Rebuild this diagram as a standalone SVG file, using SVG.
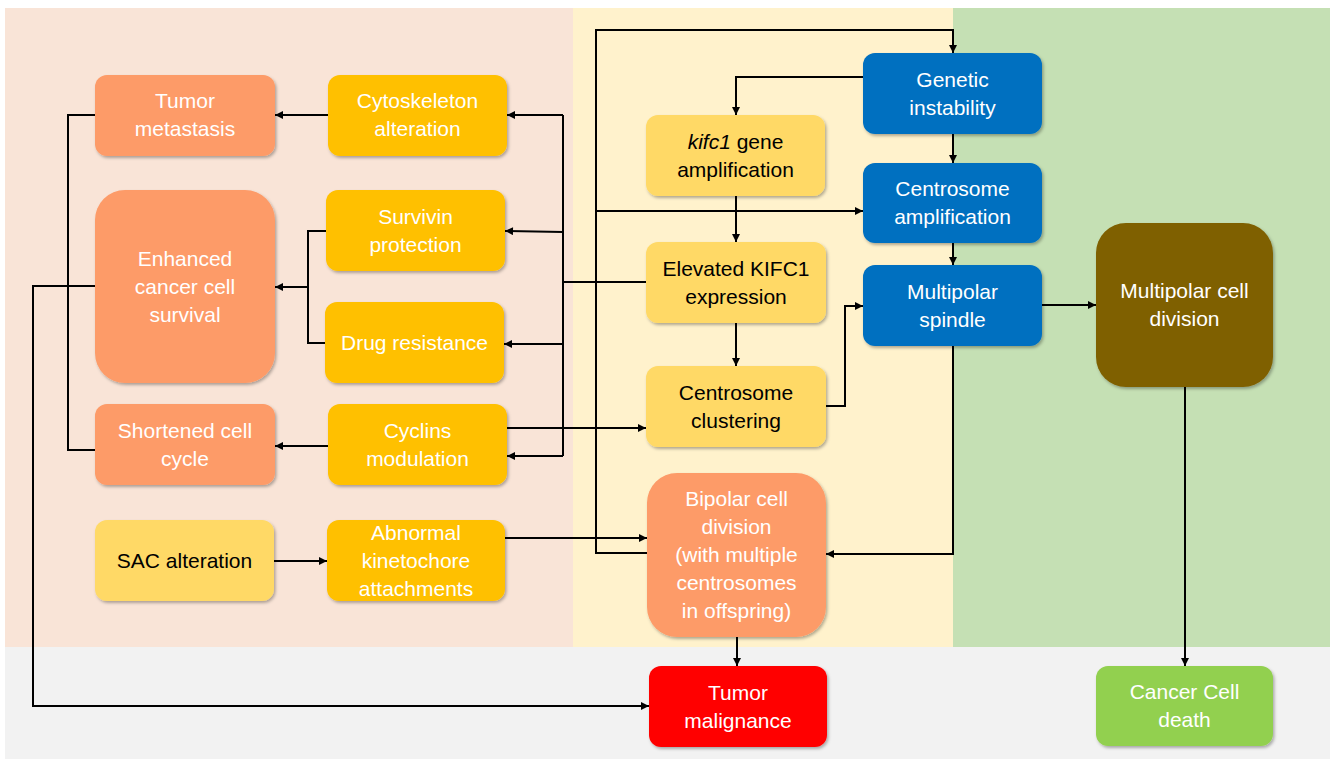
<svg xmlns="http://www.w3.org/2000/svg" width="1330" height="759" viewBox="0 0 1330 759">
  <style>
    .t { font-family: "Liberation Sans", Arial, sans-serif; font-size: 21px; text-anchor: middle; }
    .w { fill: #FFFFFF; }
    .k { fill: #000000; }
    .salmon { fill: #FD9B68; }
    .orange { fill: #FFC000; }
    .lyellow { fill: #FFD966; }
    .blue { fill: #0070C0; }
    .brown { fill: #7F6000; }
    .red { fill: #FF0000; }
    .green { fill: #92D050; }
    .node rect { filter: url(#sh); }
    .c { fill: none; stroke: #000000; stroke-width: 2; }
    .a { marker-end: url(#arr); }
  </style>
  <defs>
    <filter id="sh" x="-10%" y="-10%" width="125%" height="130%">
      <feDropShadow dx="1.5" dy="2" stdDeviation="1.5" flood-color="#000000" flood-opacity="0.3"/>
    </filter>
    <marker id="arr" viewBox="0 0 10 10" refX="10" refY="5" markerWidth="9" markerHeight="8" markerUnits="userSpaceOnUse" orient="auto">
      <path d="M0,0 L10,5 L0,10 z" fill="#000000"/>
    </marker>
  </defs>

  <!-- background regions -->
  <rect x="0" y="0" width="1330" height="759" fill="#FFFFFF"/>
  <rect x="5" y="8" width="568" height="639" fill="#F9E4D7"/>
  <rect x="573" y="8" width="380" height="639" fill="#FFF2CC"/>
  <rect x="953" y="8" width="377" height="639" fill="#C5E0B4"/>
  <rect x="5" y="647" width="1325" height="112" fill="#F2F2F2"/>

  <!-- connectors -->
  <g id="connectors">
    <!-- Cytoskeleton -> Tumor metastasis -->
    <path class="c a" d="M328,115 L275,115"/>
    <!-- Elevated KIFC1 -> trunk -->
    <path class="c" d="M646,282 L563,282"/>
    <path class="c" d="M563,115 L563,456"/>
    <path class="c a" d="M563,115 L507,115"/>
    <path class="c a" d="M563,232 L505,231"/>
    <path class="c a" d="M563,344 L504,344"/>
    <path class="c a" d="M563,456 L507,456"/>
    <!-- Survivin / Drug resistance -> Enhanced survival -->
    <path class="c" d="M326,231 L308,231 L308,343 L325,343"/>
    <path class="c a" d="M308,287 L275,287"/>
    <!-- Cyclins -> Shortened cell cycle -->
    <path class="c a" d="M328,446 L275,446"/>
    <!-- Cyclins -> Centrosome clustering -->
    <path class="c a" d="M507,428 L646,428"/>
    <!-- left bracket Tumor metastasis / Shortened -->
    <path class="c" d="M95,115 L68,115 L68,450 L95,450"/>
    <!-- Enhanced -> Tumor malignance -->
    <path class="c a" d="M95,286 L33,286 L33,706 L649,706"/>
    <!-- SAC -> Abnormal -->
    <path class="c a" d="M274,561 L327,561"/>
    <!-- Abnormal -> Bipolar -->
    <path class="c a" d="M505,538 L647,538"/>
    <!-- Bipolar -> Tumor malignance -->
    <path class="c a" d="M737,637 L737,666"/>
    <!-- Bipolar loop -> Genetic instability -->
    <path class="c a" d="M647,553 L596,553 L596,30 L953,30 L953,53"/>
    <path class="c a" d="M596,211 L863,211"/>
    <!-- Genetic -> kifc1 -->
    <path class="c a" d="M863,77 L736,77 L736,115"/>
    <!-- Genetic -> Centrosome amplification -->
    <path class="c a" d="M953,134 L953,163"/>
    <!-- Centrosome amplification -> Multipolar spindle -->
    <path class="c a" d="M953,243 L953,265"/>
    <!-- kifc1 -> Elevated -->
    <path class="c a" d="M736,196 L736,242"/>
    <!-- Elevated -> Clustering -->
    <path class="c a" d="M736,323 L736,366"/>
    <!-- Clustering -> Multipolar spindle -->
    <path class="c a" d="M826,406 L845,406 L845,306 L863,306"/>
    <!-- Multipolar spindle -> Bipolar -->
    <path class="c a" d="M953,346 L953,554 L826,554"/>
    <!-- Multipolar spindle -> Multipolar cell division -->
    <path class="c a" d="M1042,305 L1096,305"/>
    <!-- Multipolar cell division -> Cancer cell death -->
    <path class="c a" d="M1185,387 L1185,666"/>
  </g>

  <!-- nodes -->
  <g id="tumor-metastasis" class="node">
    <rect class="salmon" x="95" y="75" width="180" height="81" rx="12"/>
    <text class="t w" x="185" y="108">Tumor</text>
    <text class="t w" x="185" y="136">metastasis</text>
  </g>
  <g id="cytoskeleton-alteration" class="node">
    <rect class="orange" x="328" y="75" width="179" height="81" rx="12"/>
    <text class="t w" x="417.5" y="108">Cytoskeleton</text>
    <text class="t w" x="417.5" y="136">alteration</text>
  </g>
  <g id="survivin-protection" class="node">
    <rect class="orange" x="326" y="190" width="179" height="81" rx="12"/>
    <text class="t w" x="415.5" y="224">Survivin</text>
    <text class="t w" x="415.5" y="252">protection</text>
  </g>
  <g id="enhanced-survival" class="node">
    <rect class="salmon" x="95" y="190" width="180" height="193" rx="30"/>
    <text class="t w" x="185" y="266">Enhanced</text>
    <text class="t w" x="185" y="294">cancer cell</text>
    <text class="t w" x="185" y="322">survival</text>
  </g>
  <g id="drug-resistance" class="node">
    <rect class="orange" x="325" y="302" width="179" height="81" rx="12"/>
    <text class="t w" x="414.5" y="350">Drug resistance</text>
  </g>
  <g id="shortened-cell-cycle" class="node">
    <rect class="salmon" x="95" y="404" width="180" height="81" rx="12"/>
    <text class="t w" x="185" y="438">Shortened cell</text>
    <text class="t w" x="185" y="466">cycle</text>
  </g>
  <g id="cyclins-modulation" class="node">
    <rect class="orange" x="328" y="404" width="179" height="81" rx="12"/>
    <text class="t w" x="417.5" y="438">Cyclins</text>
    <text class="t w" x="417.5" y="466">modulation</text>
  </g>
  <g id="sac-alteration" class="node">
    <rect class="lyellow" x="95" y="520" width="179" height="81" rx="12"/>
    <text class="t k" x="184.5" y="568">SAC alteration</text>
  </g>
  <g id="abnormal-kinetochore" class="node">
    <rect class="orange" x="327" y="520" width="178" height="81" rx="12"/>
    <text class="t w" x="416" y="540">Abnormal</text>
    <text class="t w" x="416" y="568">kinetochore</text>
    <text class="t w" x="416" y="596">attachments</text>
  </g>
  <g id="kifc1-amplification" class="node">
    <rect class="lyellow" x="646" y="115" width="179" height="81" rx="12"/>
    <text class="t k" x="735.5" y="149"><tspan font-style="italic">kifc1</tspan> gene</text>
    <text class="t k" x="735.5" y="177">amplification</text>
  </g>
  <g id="elevated-kifc1" class="node">
    <rect class="lyellow" x="646" y="242" width="180" height="81" rx="12"/>
    <text class="t k" x="736" y="276">Elevated KIFC1</text>
    <text class="t k" x="736" y="304">expression</text>
  </g>
  <g id="centrosome-clustering" class="node">
    <rect class="lyellow" x="646" y="366" width="180" height="81" rx="12"/>
    <text class="t k" x="736" y="400">Centrosome</text>
    <text class="t k" x="736" y="428">clustering</text>
  </g>
  <g id="bipolar-division" class="node">
    <rect class="salmon" x="647" y="473" width="179" height="164" rx="30"/>
    <text class="t w" x="736.5" y="506">Bipolar cell</text>
    <text class="t w" x="736.5" y="534">division</text>
    <text class="t w" x="736.5" y="562">(with multiple</text>
    <text class="t w" x="736.5" y="590">centrosomes</text>
    <text class="t w" x="736.5" y="618">in offspring)</text>
  </g>
  <g id="tumor-malignance" class="node">
    <rect class="red" x="649" y="666" width="178" height="81" rx="12"/>
    <text class="t w" x="738" y="700">Tumor</text>
    <text class="t w" x="738" y="728">malignance</text>
  </g>
  <g id="genetic-instability" class="node">
    <rect class="blue" x="863" y="53" width="179" height="81" rx="12"/>
    <text class="t w" x="952.5" y="87">Genetic</text>
    <text class="t w" x="952.5" y="115">instability</text>
  </g>
  <g id="centrosome-amplification" class="node">
    <rect class="blue" x="863" y="163" width="179" height="80" rx="12"/>
    <text class="t w" x="952.5" y="196">Centrosome</text>
    <text class="t w" x="952.5" y="224">amplification</text>
  </g>
  <g id="multipolar-spindle" class="node">
    <rect class="blue" x="863" y="265" width="179" height="81" rx="12"/>
    <text class="t w" x="952.5" y="299">Multipolar</text>
    <text class="t w" x="952.5" y="327">spindle</text>
  </g>
  <g id="multipolar-division" class="node">
    <rect class="brown" x="1096" y="223" width="177" height="164" rx="30"/>
    <text class="t w" x="1184.5" y="298">Multipolar cell</text>
    <text class="t w" x="1184.5" y="326">division</text>
  </g>
  <g id="cancer-cell-death" class="node">
    <rect class="green" x="1096" y="666" width="177" height="80" rx="12"/>
    <text class="t w" x="1184.5" y="699">Cancer Cell</text>
    <text class="t w" x="1184.5" y="727">death</text>
  </g>
</svg>
